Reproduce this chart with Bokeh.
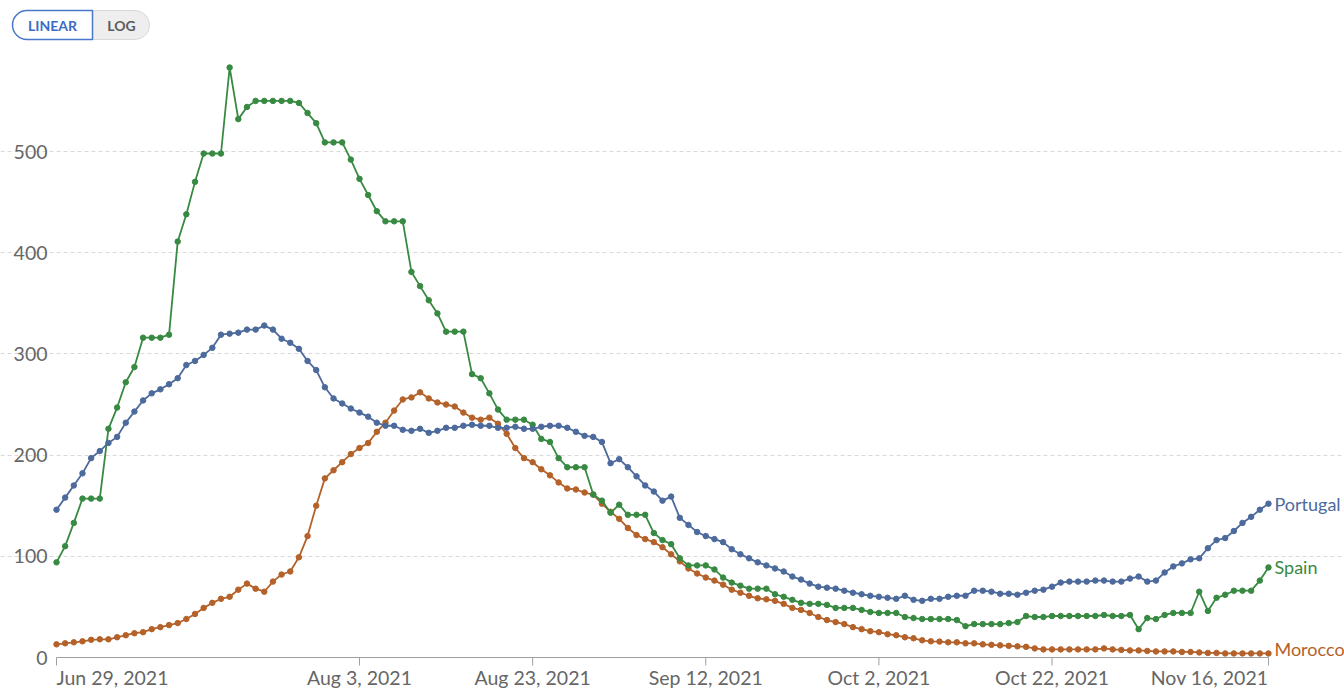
import pandas as pd
from bokeh.plotting import figure
from bokeh.models import Range1d, FixedTicker, Grid, BoxAnnotation
from bokeh.core.properties import value
from bokeh.embed import file_html
from bokeh.resources import INLINE

start_date = "2021-06-29"

portugal = [146, 158, 170, 182, 197, 204, 212, 218, 232, 243, 254, 261, 265, 270, 276, 289, 293, 299, 306, 319,
            320, 321, 324, 324, 328, 324, 315, 311, 305, 293, 284, 267, 256, 251, 246, 242, 238, 232, 229, 229,
            225, 224, 226, 222, 224, 227, 227, 229, 230, 229, 229, 227, 227, 228, 226, 226, 228, 229, 229, 227,
            223, 219, 218, 213, 192, 196, 188, 179, 170, 164, 155, 159, 138, 131, 124, 120, 117, 114, 107, 102,
            98, 94, 91, 88, 85, 80, 77, 73, 70, 69, 68, 66, 64, 62.5, 61, 60, 59, 58, 61, 57,
            56, 58, 58, 60, 61, 61, 66, 66, 65, 63, 63, 62, 64, 66, 67, 70, 74, 75, 75, 75,
            76, 76, 75, 75, 78, 80, 75, 76, 84, 90, 93, 97, 98, 108, 116, 118, 125, 133, 139, 146, 152]

spain = [94, 110, 133, 157, 157, 157, 226, 247, 272, 287, 316, 316, 316, 319, 411, 438, 470, 498, 498, 498,
         583, 532, 544, 550, 550, 550, 550, 550, 548, 538, 528, 509, 509, 509, 492, 473, 457, 441, 431, 431,
         431, 381, 367, 353, 340, 322, 322, 322, 280, 276, 261, 245, 235, 235, 235, 230, 216, 213, 197, 188,
         188, 188, 161, 155, 143, 151, 141, 141, 141, 123, 116, 112, 98, 91, 91, 91, 87, 79, 74, 71,
         68, 68, 68, 62.5, 60, 57, 54, 53, 53, 52, 49, 49, 49, 47, 45, 44, 44, 44, 40, 39,
         38, 38, 38, 38, 37, 31, 33, 33, 33, 33, 34, 35, 41, 40, 40, 41, 41, 41, 41, 41,
         41, 42, 41, 41, 42, 28, 39, 38, 42, 44, 44, 44, 65, 46, 59, 62, 66, 66, 66, 76, 89]

morocco = [13, 14, 15, 16, 17.5, 18, 18, 20, 22, 24, 25, 28, 30, 32, 34, 38, 43, 49, 54, 58,
           60, 67, 73, 68, 65, 75, 82, 85, 99, 120, 150, 177, 185, 193, 201, 207, 212, 223, 232, 244,
           255, 257, 262, 256, 252, 250, 248, 242, 237, 235, 237, 231, 221, 207, 197, 193, 186, 180, 173, 167,
           166, 163, 161, 152, 144, 137, 128, 121, 117, 114, 109, 102, 95, 88, 83, 79, 76, 72, 67, 64,
           61, 58.5, 57.5, 56, 53, 49, 47, 44, 40, 37, 35, 33, 30, 28, 26, 25, 23, 22, 20, 19,
           17, 16, 15.7, 15, 15, 14, 14, 13, 12.5, 12, 11.5, 11, 10.5, 9, 8, 8, 8, 8, 8, 8,
           8, 9, 8, 7.5, 7, 7, 6.5, 6, 6, 6, 5.5, 5.5, 5, 4.5, 4.5, 4, 4, 4, 4, 4, 4]

series_names = ["Portugal", "Spain", "Morocco"]
series_colors = ["#4C6A9C", "#388A42", "#B4622A"]

tick_dates = ["2021-06-29", "2021-08-03", "2021-08-23", "2021-09-12", "2021-10-02", "2021-10-22", "2021-11-16"]
tick_labels = ["Jun 29, 2021", "Aug 3, 2021", "Aug 23, 2021", "Sep 12, 2021", "Oct 2, 2021", "Oct 22, 2021", "Nov 16, 2021"]
y_ticks = [0, 100, 200, 300, 400, 500]

dates = pd.date_range(start_date, periods=len(portugal), freq="D")

# ---- layout: the frame fills the whole canvas, pixel <-> data mapping ----
W, H = 1344, 689
X0_PX, PX_PER_DAY = 56.0, 8.657      # first date's pixel column, px per day
Y0_PX, PX_PER_UNIT = 657.0, 1.012    # zero line's pixel row, px per unit
DAY = 86400000.0


def to_ms(d):
    return pd.Timestamp(d).value / 1e6


T0 = to_ms(dates[0])


def xpx(px):
    return T0 + (px - X0_PX) / PX_PER_DAY * DAY


def ypx(py):
    return (Y0_PX - py) / PX_PER_UNIT


p = figure(width=W, height=H, x_axis_type="datetime",
           x_range=Range1d(xpx(0), xpx(W)), y_range=Range1d(ypx(H), ypx(0)),
           x_axis_location=None, y_axis_location=None,
           output_backend="svg", toolbar_location=None,
           min_border=0, min_border_left=0, min_border_right=0, min_border_top=0, min_border_bottom=0)
p.outline_line_color = None
p.background_fill_color = "white"
p.border_fill_color = "white"
p.grid.visible = False

# horizontal dashed grid lines, bounded to the data's date span
p.add_layout(Grid(dimension=1, ticker=FixedTicker(ticks=[t for t in y_ticks if t > 0]),
                  bounds=(to_ms(dates[0]), to_ms(dates[-1])),
                  grid_line_color="#d9d9d9", grid_line_dash="4 3", grid_line_width=1))

# y tick labels
p.text(x=[xpx(47)] * len(y_ticks), y=y_ticks, text=[str(t) for t in y_ticks],
       text_align="right", text_baseline="middle", text_font=value("Lato"),
       text_font_size=value("19.5px"), text_color="#666666")

# x axis line and ticks
tick_ms = [to_ms(d) for d in tick_dates]
p.segment(x0=[to_ms(dates[0])], y0=[0], x1=[to_ms(dates[-1])], y1=[0], line_color="#a0a0a0", line_width=1)
p.segment(x0=tick_ms, y0=[0] * len(tick_ms), x1=tick_ms, y1=[ypx(Y0_PX + 8)] * len(tick_ms),
          line_color="#a0a0a0", line_width=1)

# x tick labels (first left-aligned, last right-aligned)
lab_y = ypx(677)
lab_style = dict(text_baseline="middle", text_font=value("Lato"), text_font_size=value("19.5px"),
                 text_color="#666666")
p.text(x=tick_ms[:1], y=[lab_y], text=tick_labels[:1], text_align="left", **lab_style)
p.text(x=tick_ms[1:-1], y=[lab_y] * (len(tick_ms) - 2), text=tick_labels[1:-1], text_align="center", **lab_style)
p.text(x=tick_ms[-1:], y=[lab_y], text=tick_labels[-1:], text_align="right", **lab_style)

# series
all_values = [portugal, spain, morocco]
for vals, name, col in list(zip(all_values, series_names, series_colors))[::-1]:
    p.line(dates, vals, line_color=col, line_width=1.8)
    p.scatter(dates, vals, size=5.5, fill_color=col, line_color=col)

# end-of-line labels
for vals, name, col in zip(all_values, series_names, series_colors):
    extra = 4.5 if name == "Morocco" else 0
    p.text(x=[to_ms(dates[-1])], y=[vals[-1] + extra], text=[name], x_offset=6,
           text_align="left", text_baseline="middle", text_font=value("Lato"),
           text_font_size=value("18px"), text_color=col)

# LINEAR / LOG toggle (boxes under the glyph texts)
p.add_layout(BoxAnnotation(left=xpx(92), right=xpx(149), top=ypx(10), bottom=ypx(39), level="underlay",
                           fill_color="#eeeeee", fill_alpha=1, line_color="#d8d8d8", line_alpha=1, line_width=1,
                           border_radius=(0, 15, 15, 0)))
p.add_layout(BoxAnnotation(left=xpx(12), right=xpx(92), top=ypx(10), bottom=ypx(39), level="underlay",
                           fill_color="white", fill_alpha=1, line_color="#4a78c9", line_alpha=1, line_width=1.5,
                           border_radius=(15, 0, 0, 15)))
p.text(x=[xpx(52)], y=[ypx(24.5)], text=["LINEAR"], text_align="center", text_baseline="middle",
       text_font=value("Lato"), text_font_style=value("bold"), text_font_size=value("14px"), text_color="#3b6cc4")
p.text(x=[xpx(121)], y=[ypx(24.5)], text=["LOG"], text_align="center", text_baseline="middle",
       text_font=value("Lato"), text_font_style=value("bold"), text_font_size=value("14px"), text_color="#5b5b5b")

open("out.html", "w").write(file_html(p, INLINE))
